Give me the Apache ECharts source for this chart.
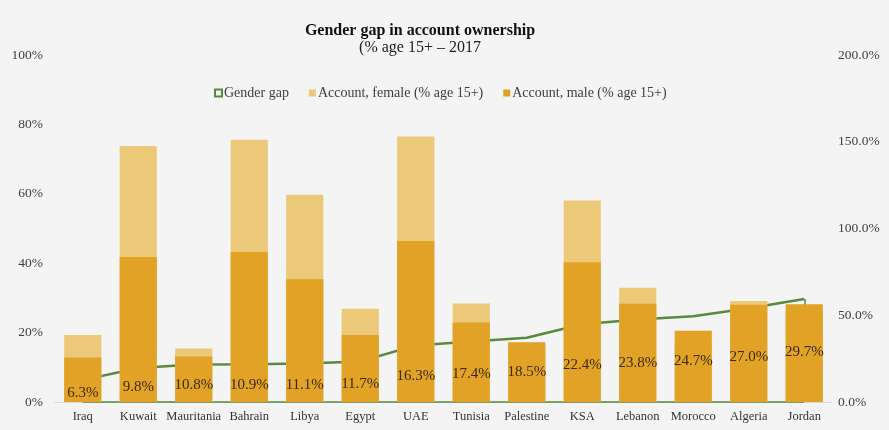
<!DOCTYPE html>
<html>
<head>
<meta charset="utf-8">
<script src="https://cdn.jsdelivr.net/npm/echarts@6/dist/echarts.min.js"></script>
<style>
html,body{margin:0;padding:0;background:#f4f4f4;}
#c{width:889px;height:430px;}
</style>
</head>
<body>
<div id="c"></div>
<script>
var categories = ['Iraq','Kuwait','Mauritania','Bahrain','Libya','Egypt','UAE','Tunisia','Palestine','KSA','Lebanon','Morocco','Algeria','Jordan'];
var genderGap = [6.3, 9.8, 10.8, 10.9, 11.1, 11.7, 16.3, 17.4, 18.5, 22.4, 23.8, 24.7, 27.0, 29.7];
var femaleAccount = [19.3, 73.8, 15.4, 75.6, 59.7, 26.9, 76.5, 28.4, 15.9, 58.1, 32.9, 16.4, 29.1, 26.6];
var maleAccount = [25.6, 83.6, 26.2, 86.5, 70.8, 38.6, 92.8, 45.8, 34.4, 80.5, 56.7, 41.1, 56.1, 56.3];
var leftTicks = [0, 20, 40, 60, 80, 100];
var rightTicks = [0, 50, 100, 150, 200];

var serif = 'Liberation Serif';
var green = '#578a3c';
var chart = echarts.init(document.getElementById('c'));
var last = categories.length - 1;
chart.setOption({
  backgroundColor: '#f4f4f4',
  animation: false,
  title: {
    text: 'Gender gap in account ownership',
    subtext: '(% age 15+ \u2013 2017',
    left: 415, top: 18, textAlign: 'center',
    itemGap: 1,
    textStyle: {fontFamily: serif, fontWeight: 'bold', fontSize: 16, color: '#111'},
    subtextStyle: {fontFamily: serif, fontSize: 16, color: '#222'}
  },
  legend: {
    top: 81, left: 209,
    itemWidth: 7, itemHeight: 7, itemGap: 20,
    textStyle: {fontFamily: serif, fontSize: 14, color: '#404040', padding: [0,0,0,-3]},
    data: [
      {name: 'Gender gap', icon: 'rect', itemStyle: {color: '#f4f4f4', borderColor: green, borderWidth: 2}},
      {name: 'Account, female (% age 15+)', icon: 'rect'},
      {name: 'Account, male (% age 15+)', icon: 'rect'}
    ]
  },
  grid: {left: 55, right: 57, top: 55, bottom: 28, containLabel: false},
  xAxis: {
    type: 'category', data: categories,
    axisLine: {lineStyle: {color: '#d9d9d9'}},
    axisTick: {show: false},
    axisLabel: {fontFamily: serif, fontSize: 12.5, color: '#333', margin: 8, interval: 0}
  },
  yAxis: [
    {type: 'value', min: leftTicks[0], max: leftTicks[leftTicks.length-1], interval: 20,
     splitLine: {show: false}, axisLine: {show: false}, axisTick: {show: false},
     axisLabel: {fontFamily: serif, fontSize: 13.5, color: '#404040', margin: 12, formatter: '{value}%'}},
    {type: 'value', min: rightTicks[0], max: rightTicks[rightTicks.length-1], interval: 50,
     splitLine: {show: false}, axisLine: {show: false}, axisTick: {show: false},
     axisLabel: {fontFamily: serif, fontSize: 13.5, color: '#404040', margin: 6,
       formatter: function(v){return v.toFixed(1) + '%';}}}
  ],
  series: [
    {
      name: 'Gender gap', type: 'line', yAxisIndex: 0, data: genderGap, z: 1,
      symbol: 'none', lineStyle: {color: green, width: 2.5}, itemStyle: {color: green},
      markLine: {
        silent: true, symbol: 'none', z: 1, label: {show: false},
        lineStyle: {color: green, width: 1.5, type: 'solid'},
        data: [
          [{coord: [categories[0], 0]}, {coord: [categories[last], 0]}],
          [{coord: [categories[last], genderGap[last]]}, {coord: [categories[last], 0]}]
        ]
      }
    },
    {
      name: 'Account, female (% age 15+)', type: 'bar', yAxisIndex: 0, data: femaleAccount,
      barWidth: '67%', barGap: '-100%', z: 2,
      itemStyle: {color: '#ecc979'}
    },
    {
      name: 'Account, male (% age 15+)', type: 'bar', yAxisIndex: 1, data: maleAccount,
      barWidth: '67%', barGap: '-100%', z: 3,
      itemStyle: {color: '#e1a226'}
    },
    {
      name: 'gapLabel', type: 'bar', yAxisIndex: 0, data: genderGap,
      barWidth: '67%', barGap: '-100%', z: 4, silent: true,
      itemStyle: {color: 'rgba(0,0,0,0)'},
      label: {show: true, position: 'inside', offset: [0, 2], fontFamily: serif, fontSize: 15, color: '#3a2a0c',
        formatter: function(p){return p.value.toFixed(1) + '%';}}
    }
  ]
});
</script>
</body>
</html>
